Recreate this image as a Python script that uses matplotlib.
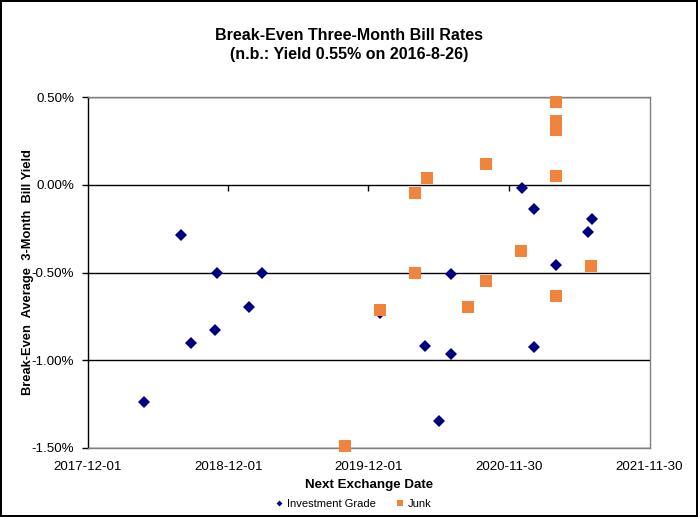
import matplotlib
matplotlib.use("Agg")
import matplotlib.pyplot as plt
import matplotlib.dates as mdates
import matplotlib.ticker as mticker
import numpy as np
import datetime as dt

plt.rcParams['font.family'] = ['Liberation Sans', 'DejaVu Sans']

# ---- data ----
ig_dates = ["2018-04-26", "2018-07-31", "2018-08-25", "2018-11-01", "2018-10-28",
            "2019-01-25", "2019-02-27", "2019-12-31", "2020-04-27", "2020-06-03",
            "2020-07-02", "2020-07-02", "2021-01-03", "2021-02-04", "2021-02-04",
            "2021-04-03", "2021-06-24", "2021-07-05"]
ig_yield = [-1.24, -0.285, -0.90, -0.50, -0.825,
            -0.695, -0.505, -0.73, -0.92, -1.345,
            -0.51, -0.965, -0.02, -0.14, -0.925,
            -0.455, -0.27, -0.195]

junk_dates = ["2019-10-01", "2019-12-31", "2020-03-31", "2020-03-31", "2020-05-01",
              "2020-08-16", "2020-10-03", "2020-10-03", "2021-01-02", "2021-04-03",
              "2021-04-03", "2021-04-03", "2021-04-03", "2021-04-03", "2021-07-03"]
junk_yield = [-1.49, -0.715, -0.045, -0.50, 0.04,
              -0.695, 0.12, -0.55, -0.375, 0.47,
              0.365, 0.31, 0.05, -0.635, -0.465]

x_ticks = ["2017-12-01", "2018-12-01", "2019-12-01", "2020-11-30", "2021-11-30"]
y_ticks = [-1.5, -1.0, -0.5, 0.0, 0.5]

title = "Break-Even Three-Month Bill Rates\n(n.b.: Yield 0.55% on 2016-8-26)"
xlabel = "Next Exchange Date"
ylabel = "Break-Even  Average  3-Month  Bill Yield"
series_names = ["Investment Grade", "Junk"]

NAVY = "#000080"
ORANGE = "#F0843C"
GRAY = "#808080"

def to_dates(lst):
    return [dt.datetime.strptime(s, "%Y-%m-%d") for s in lst]

W, H = 698, 517
fig = plt.figure(figsize=(W / 100, H / 100), dpi=100, facecolor="white",
                 edgecolor="black", linewidth=1.5)
ax = fig.add_axes([88 / W, 1 - 448 / H, 562 / W, 351 / H])

xt = to_dates(x_ticks)
ax.set_xlim(xt[0], xt[-1] + dt.timedelta(days=3))
ax.set_ylim(y_ticks[0], y_ticks[-1])

ax.plot(to_dates(ig_dates), ig_yield, linestyle="none", marker="D", ms=6,
        color=NAVY, mec=NAVY, mew=0, label=series_names[0], zorder=3, clip_on=False)
ax.plot(to_dates(junk_dates), junk_yield, linestyle="none", marker="s", ms=8.3,
        color=ORANGE, mec=ORANGE, mew=0, label=series_names[1], zorder=4, clip_on=False)

# y axis
ax.set_yticks(y_ticks)
ax.yaxis.set_major_formatter(mticker.FuncFormatter(lambda v, p: f"{v:.2f}%"))
ax.tick_params(axis="y", direction="out", length=4, width=1, color="black",
               labelsize=9.6, pad=6)
ax.yaxis.grid(True, color="black", linewidth=1)
ax.set_axisbelow(True)

# x axis labels at bottom
ax.set_xticks(xt)
ax.set_xticklabels(x_ticks)
ax.tick_params(axis="x", length=0, labelsize=9.6, pad=9)

for s in ["top", "right", "bottom"]:
    ax.spines[s].set_color(GRAY)
    ax.spines[s].set_linewidth(1)
ax.spines["left"].set_color("black")
ax.spines["left"].set_linewidth(1)

# x-axis ticks crossing at 0.00%
pos = (0 - y_ticks[0]) / (y_ticks[-1] - y_ticks[0])
sec = ax.secondary_xaxis(pos)
sec.set_xticks(xt[1:-1])
sec.tick_params(axis="x", direction="in", length=4, width=1, color="black",
                labeltop=False, labelbottom=False)
for s in sec.spines.values():
    s.set_visible(False)

ax.set_xlabel(xlabel, fontsize=9.6, fontweight="bold", labelpad=5)
ax.set_ylabel(ylabel, fontsize=9.3, fontweight="bold")
ax.yaxis.set_label_coords((33.5 - 88) / 562, 0.5)

fig.text(349 / W, 1 - 45 / H, title, ha="center", va="center",
         fontsize=11.5, fontweight="bold", linespacing=1.3)

leg = fig.legend(loc="center", bbox_to_anchor=(353 / W, 1 - 504 / H), ncol=2,
                 frameon=False, fontsize=8, markerscale=0.5, handlelength=0.8,
                 handletextpad=0.3, columnspacing=1.8)

fig.savefig("out.png", dpi=100)
